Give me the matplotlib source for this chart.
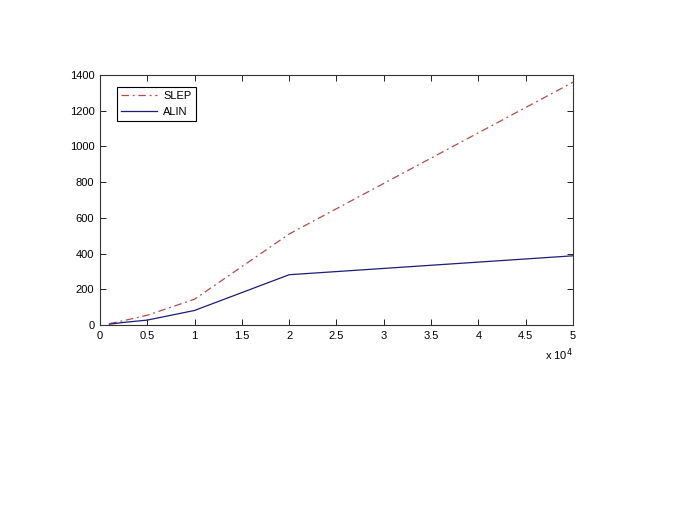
import numpy as np
import matplotlib.pyplot as plt
from matplotlib.ticker import FuncFormatter

plt.rcParams['font.family'] = ['Liberation Sans', 'DejaVu Sans']

n = [1000, 2500, 5000, 10000, 20000, 50000]
slep = [8, 25, 55, 145, 510, 1360]
alin = [5, 15, 28, 82, 282, 388]

fig = plt.figure(figsize=(6.75, 5.21), dpi=100)
ax = fig.add_axes([0.148, 0.376, 0.701, 0.480])

ax.plot(n, slep, color='#b84a48', lw=0.9, label='SLEP', linestyle=(0, (6, 3, 1.5, 3)))
ax.plot(n, alin, '-', color='#1c1c78', lw=0.9, label='ALIN')

ax.set_xlim(0, 50000)
ax.set_ylim(0, 1400)
ax.set_xticks(np.arange(0, 50001, 5000))
ax.set_yticks(np.arange(0, 1401, 200))
ax.xaxis.set_major_formatter(FuncFormatter(lambda v, p: '%g' % (v / 1e4)))
ax.tick_params(direction='in', top=True, right=True, labelsize=8, length=4, width=0.6, pad=4)
for s in ax.spines.values():
    s.set_linewidth(0.8)
    s.set_color('#333333')

ax.text(1.0, -0.085, r'x 10$^4$', transform=ax.transAxes, ha='right', va='top', fontsize=8)

leg = ax.legend(loc='upper left', fontsize=8, fancybox=False, framealpha=1,
                edgecolor='black', borderpad=0.35, handlelength=3.2, labelspacing=0.55,
                handletextpad=0.6, bbox_to_anchor=(0.025, 0.975))
leg.get_frame().set_linewidth(0.8)

fig.savefig('out.png', dpi=100)
